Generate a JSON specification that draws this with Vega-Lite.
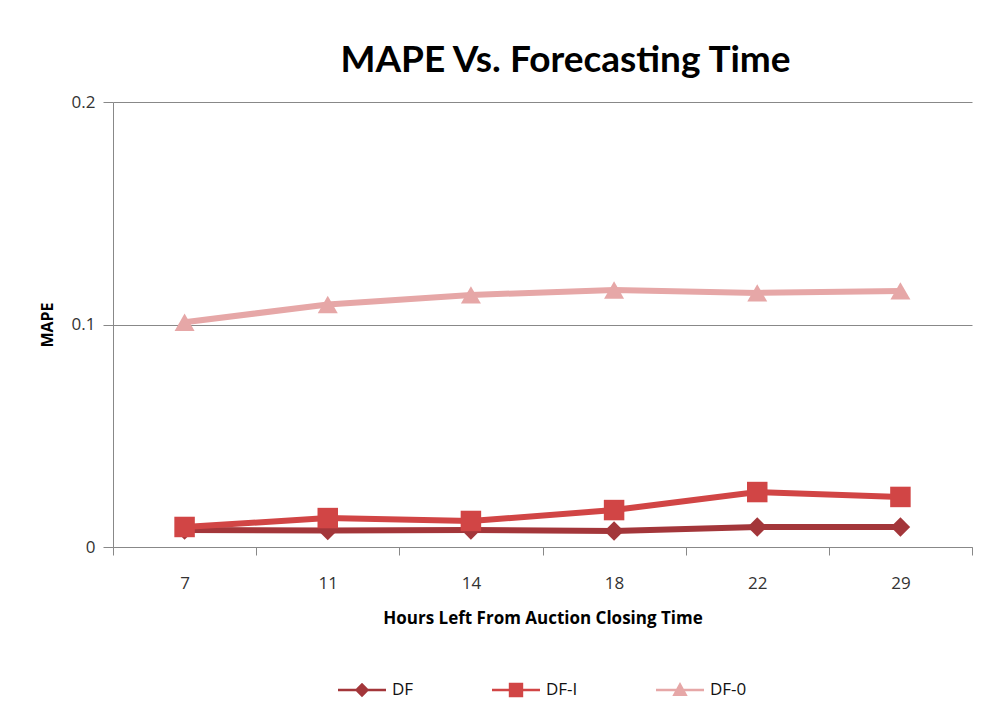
{
  "$schema": "https://vega.github.io/schema/vega-lite/v6.json",
  "autosize": {"type": "none"},
  "width": 859,
  "height": 445,
  "padding": {"left": 113, "top": 102, "right": 25, "bottom": 172},
  "background": "white",
  "title": {
    "text": "MAPE Vs. Forecasting Time",
    "font": "Lato",
    "fontSize": 37,
    "fontWeight": "bold",
    "color": "#000000",
    "anchor": "middle",
    "frame": "group",
    "baseline": "alphabetic",
    "offset": -16,
    "dx": 23
  },
  "config": {
    "view": {"stroke": null},
    "font": "Open Sans",
    "legend": {"layout": {"bottom": {"anchor": "middle"}}},
    "axis": {
      "labelFont": "Open Sans",
      "titleFont": "Open Sans",
      "labelColor": "#333333",
      "titleColor": "#000000",
      "domainColor": "#888888",
      "tickColor": "#888888",
      "gridColor": "#888888"
    }
  },
  "data": {
    "values": [
      {"hours": "7", "series": "DF", "mape": 0.0076},
      {"hours": "11", "series": "DF", "mape": 0.0074},
      {"hours": "14", "series": "DF", "mape": 0.0076},
      {"hours": "18", "series": "DF", "mape": 0.0072},
      {"hours": "22", "series": "DF", "mape": 0.009},
      {"hours": "29", "series": "DF", "mape": 0.009},
      {"hours": "7", "series": "DF-I", "mape": 0.009},
      {"hours": "11", "series": "DF-I", "mape": 0.013},
      {"hours": "14", "series": "DF-I", "mape": 0.0117},
      {"hours": "18", "series": "DF-I", "mape": 0.0166},
      {"hours": "22", "series": "DF-I", "mape": 0.0247},
      {"hours": "29", "series": "DF-I", "mape": 0.0225},
      {"hours": "7", "series": "DF-0", "mape": 0.101},
      {"hours": "11", "series": "DF-0", "mape": 0.109},
      {"hours": "14", "series": "DF-0", "mape": 0.1133},
      {"hours": "18", "series": "DF-0", "mape": 0.1155},
      {"hours": "22", "series": "DF-0", "mape": 0.1142},
      {"hours": "29", "series": "DF-0", "mape": 0.1151}
    ]
  },
  "encoding": {
    "x": {
      "field": "hours",
      "type": "ordinal",
      "sort": ["7", "11", "14", "18", "22", "29"],
      "bandPosition": 0.5,
      "scale": {"type": "band", "paddingInner": 0, "paddingOuter": 0},
      "axis": {
        "title": "Hours Left From Auction Closing Time",
        "titleFontSize": 17,
        "titleFontWeight": "bold",
        "titlePadding": 19,
        "labelFontSize": 17,
        "labelAngle": 0,
        "labelPadding": 20,
        "tickBand": "extent",
        "tickSize": 8,
        "grid": false
      }
    },
    "y": {
      "field": "mape",
      "type": "quantitative",
      "scale": {"domain": [0, 0.2], "nice": false},
      "axis": {
        "title": "MAPE",
        "titleFontSize": 16,
        "titleFontWeight": "bold",
        "titlePadding": 16,
        "values": [0, 0.1, 0.2],
        "format": "~g",
        "labelFontSize": 17,
        "labelPadding": 8,
        "tickSize": 10,
        "grid": true
      }
    },
    "color": {
      "field": "series",
      "type": "nominal",
      "sort": ["DF", "DF-I", "DF-0"],
      "scale": {"domain": ["DF", "DF-I", "DF-0"], "range": ["#A3363A", "#D14545", "#E6A7A7"]},
      "legend": {
        "title": null,
        "orient": "bottom",
        "direction": "horizontal",
        "offset": 40,
        "labelFont": "Open Sans",
        "labelFontSize": 17,
        "labelColor": "#111111",
        "labelOffset": 6,
        "symbolSize": 2304,
        "symbolStrokeWidth": 0,
        "symbolOpacity": 1,
        "symbolType": "M-1,-0.05H1V0.05H-1Z M-0.2,-0.2H0.2V0.2H-0.2Z",
        "columnPadding": 78,
        "encode": {
          "symbols": {
            "update": {
              "shape": {"signal": "datum.value === 'DF' ? 'M-1,-0.05H1V0.05H-1Z M0,-0.3L0.3,0L0,0.3L-0.3,0Z' : datum.value === 'DF-I' ? 'M-1,-0.05H1V0.05H-1Z M-0.3,-0.3H0.3V0.3H-0.3Z' : 'M-1,-0.05H1V0.05H-1Z M0,-0.33L0.32,0.25H-0.32Z'"},
              "fill": {"scale": "color", "field": "value"},
              "opacity": {"value": 1}
            }
          }
        }
      }
    }
  },
  "layer": [
    {
      "mark": {"type": "line", "strokeWidth": 6},
      "encoding": {"detail": {"field": "series"}}
    },
    {
      "transform": [{"filter": "datum.series === 'DF'"}],
      "mark": {"type": "point", "filled": true, "opacity": 1, "size": 380, "shape": "diamond"}
    },
    {
      "transform": [{"filter": "datum.series === 'DF-I'"}],
      "mark": {"type": "point", "filled": true, "opacity": 1, "size": 420, "shape": "square"}
    },
    {
      "transform": [{"filter": "datum.series === 'DF-0'"}],
      "mark": {"type": "point", "filled": true, "opacity": 1, "size": 400, "shape": "triangle-up"}
    }
  ]
}
